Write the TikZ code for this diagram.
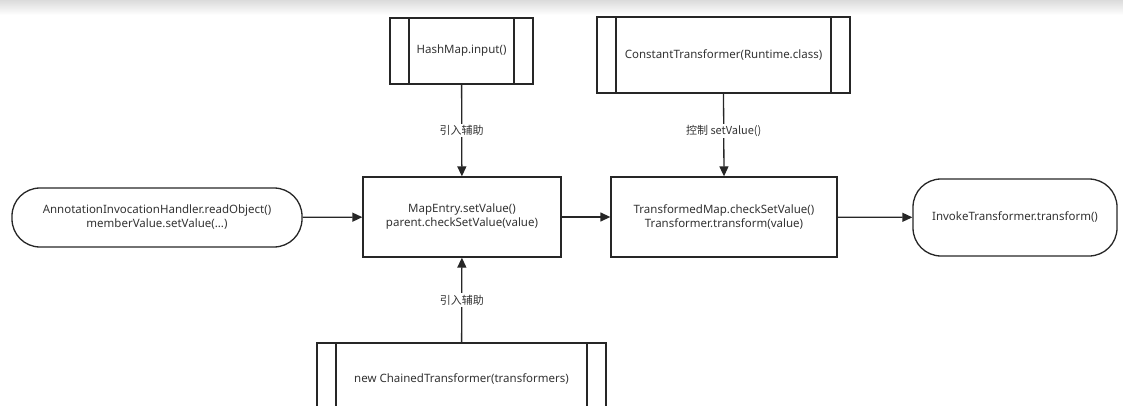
\documentclass[tikz,border=0pt]{standalone}
\usepackage{fontspec}
\setmainfont{Noto Sans}
\newfontfamily\cjk{Noto Sans CJK SC}
\usetikzlibrary{arrows.meta}
\definecolor{ln}{HTML}{262626}
\definecolor{tx}{HTML}{333333}
\tikzset{
  every node/.style={font=\fontsize{11.5}{14}\selectfont, text=tx},
  base/.style={draw=ln, line width=1.3pt, align=center, inner sep=0pt},
  proc/.style={base},
  term/.style={base, rounded corners=28pt},
  predef/.style={base, path picture={
    \draw[ln, line width=1.3pt] ([xshift=19pt]path picture bounding box.north west) -- ([xshift=19pt]path picture bounding box.south west);
    \draw[ln, line width=1.3pt] ([xshift=-19pt]path picture bounding box.north east) -- ([xshift=-19pt]path picture bounding box.south east);}},
  conn/.style={draw=ln, line width=1.3pt, -{Triangle[length=10pt,width=9pt]}},
  lab/.style={fill=white, inner sep=1.5pt, font=\cjk\fontsize{11}{13}\selectfont}
}
\begin{document}
\begin{tikzpicture}[x=1pt,y=-1pt]
\useasboundingbox (0,0) rectangle (1123,406);
\clip (0,0) rectangle (1123,406);
\shade[top color=black!14, bottom color=white] (0,0) rectangle (1123,15);
\node[predef, minimum width=143pt, minimum height=66pt] (hm) at (461.5,51) {HashMap.input()};
\node[predef, minimum width=253pt, minimum height=76pt] (ct) at (723.5,55) {ConstantTransformer(Runtime.class)};
\node[proc, minimum width=198pt, minimum height=80pt] (me) at (462,217) {MapEntry.setValue()\\parent.checkSetValue(value)};
\node[proc, minimum width=226pt, minimum height=80pt] (tm) at (724,217) {TransformedMap.checkSetValue()\\Transformer.transform(value)};
\node[term, minimum width=290pt, minimum height=59pt] (ai) at (157,217.5) {AnnotationInvocationHandler.readObject()\\memberValue.setValue(...)};
\node[term, minimum width=204pt, minimum height=77pt] (it) at (1015,217.5) {InvokeTransformer.transform()};
\node[predef, minimum width=289pt, minimum height=72pt] (ch) at (461.5,379) {new ChainedTransformer(transformers)};
\draw[conn] (hm) -- node[lab, pos=0.5] {引入辅助} (me);
\draw[conn] (ct.south) -- node[lab, pos=0.45] {控制 setValue()} (tm.north);
\draw[conn] (ai) -- (me);
\draw[conn] (me) -- (tm);
\draw[conn] (tm) -- (it);
\draw[conn] (ch) -- node[lab, pos=0.5] {引入辅助} (me);
\end{tikzpicture}
\end{document}
